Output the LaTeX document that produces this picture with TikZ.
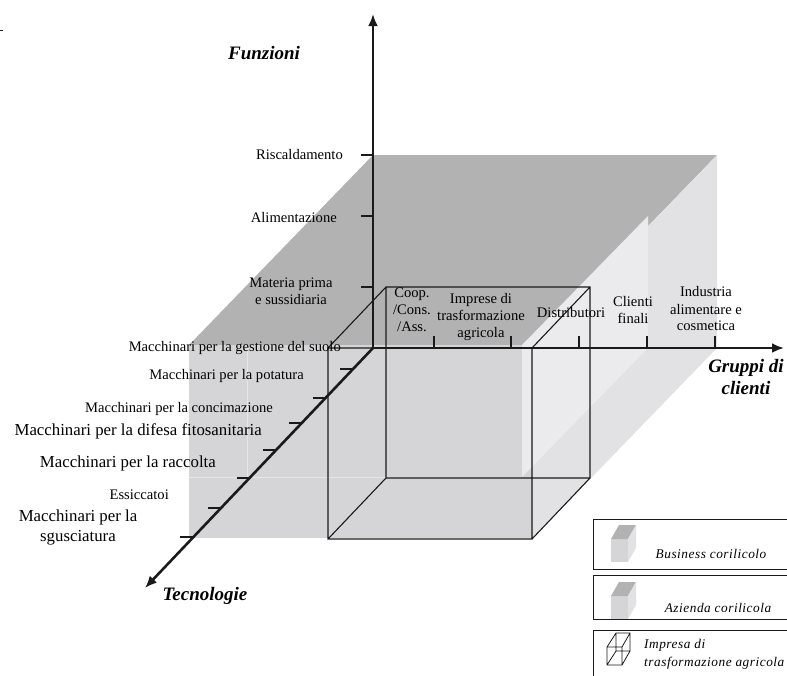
\documentclass[tikz,border=0pt]{standalone}
\usepackage{fontspec}
\setmainfont{Liberation Serif}
\newfontfamily\legfont[LetterSpace=4]{Liberation Serif}
\usetikzlibrary{arrows.meta}
\definecolor{topgray}{HTML}{B2B2B2}
\definecolor{frontgray}{HTML}{D5D5D7}
\definecolor{sidegray}{HTML}{E2E2E4}
\definecolor{sidelight}{HTML}{EBEBED}
\definecolor{faint}{HTML}{E6E6E8}
\definecolor{ink}{HTML}{1A1A1A}

\begin{document}
\begin{tikzpicture}[x=1pt,y=-1pt,
    axis/.style={ink,line width=2.6pt,line cap=rect,-{Latex[length=12pt,width=10pt]}},
    tick/.style={ink,line width=1.6pt},
    wire/.style={ink,line width=1.1pt},
    lab/.style={font=\fontsize{14.6}{17}\selectfont,inner sep=0pt,align=center},
    blab/.style={font=\fontsize{16.8}{20}\selectfont,inner sep=0pt,align=center},
    ttl/.style={font=\fontsize{19}{22}\selectfont\bfseries\itshape,inner sep=0pt,align=center},
    leg/.style={font=\legfont\fontsize{13.3}{18}\selectfont\itshape,inner sep=0pt,align=left}]
  \useasboundingbox (0,0) rectangle (787,675);
  \draw[ink,line width=0.8pt] (0,30) -- (2.5,30);

  \fill[topgray] (373,155) -- (717,155) -- (533,345) -- (189,345) -- cycle;
  \fill[frontgray] (189,345) rectangle (533,538);
  \fill[sidegray] (717,155) -- (717,348) -- (533,538) -- (533,345) -- cycle;
  \fill[sidelight] (648,216) -- (648,348) -- (522,477) -- (522,345) -- cycle;
  \draw[faint,line width=0.8pt] (247,345) -- (247,477) (189,477) -- (522,477);

  \draw[wire] (386,287) rectangle (590,478) (328,348) rectangle (532,539)
    (386,287) -- (328,348) (590,287) -- (532,348) (590,478) -- (532,539) (386,478) -- (328,539);

  \coordinate (O) at (373,348);
  \coordinate (fTip) at (373,14);
  \coordinate (gTip) at (784,348);
  \coordinate (tTip) at (145,588);
  \draw[axis] (O) -- (fTip);
  \draw[axis] (O) -- (gTip);
  \draw[axis] (O) -- (tTip);

  \foreach \y in {155,216,287} \draw[tick] (361,\y) -- (373,\y);
  \foreach \x in {434,511,579,647,715} \draw[tick] (\x,348) -- (\x,336);
  \foreach \y in {369,398,423,450,478,508,537} \draw[tick] ({373-(\y-348)*0.95-13},\y) -- ++(13,0);

  \node[lab,anchor=east] (risc) at (343,155) {Riscaldamento};
  \node[lab,anchor=east] (alim) at (337,218) {Alimentazione};
  \node[lab] (mat) at (291,291) {Materia prima\\e sussidiaria};

  \node[lab] (coop) at (412,310) {Coop.\\/Cons.\\/Ass.};
  \node[lab] (impr) at (481,317) {Imprese di\\trasformazione\\agricola};
  \node[lab] (distr) at (571,312) {Distributori};
  \node[lab] (clienti) at (633,310) {Clienti\\finali};
  \node[lab] (ind) at (706,309) {Industria\\alimentare e\\cosmetica};

  \foreach \n/\x/\y/\t in {suolo/341/348/Macchinari per la gestione del suolo,
      potat/304/376/Macchinari per la potatura,
      concim/273/409/Macchinari per la concimazione,
      essic/169/495/Essiccatoi}
    \node[lab,anchor=east] (\n) at (\x,\y) {\t};
  \node[blab,anchor=east] (difesa) at (262,431) {Macchinari per la difesa fitosanitaria};
  \node[blab,anchor=east] (racc) at (216,463) {Macchinari per la raccolta};
  \node[blab] (sgusc) at (78,527) {Macchinari per la\\sgusciatura};

  \node[ttl] (fTitle) at (264,53) {Funzioni};
  \node[ttl] (gTitle) at (746,377) {Gruppi di\\clienti};
  \node[ttl] (tTitle) at (205,596) {Tecnologie};

  \begin{scope}
    \clip (0,0) rectangle (787,675);
    \foreach \a/\b in {519/569,575/619,630/700}
      \draw[ink,line width=1pt] (593,\a) rectangle (800,\b);
  \end{scope}
  \foreach \y in {539,596} {
    \fill[frontgray] (611,\y) rectangle (628,\y+23);
    \fill[topgray] (611,\y) -- (628,\y) -- (636,\y-14) -- (619,\y-14) -- cycle;
    \fill[sidegray] (628,\y) -- (636,\y-14) -- (636,\y+9) -- (628,\y+23) -- cycle;
  }
  \draw[ink,line width=0.8pt] (616,633) rectangle (630,651) (607,647) rectangle (622,665)
    (616,633) -- (607,647) (630,633) -- (622,647) (630,651) -- (622,665) (616,651) -- (607,665);
  \node[leg] (legBiz) at (711,554) {Business corilicolo};
  \node[leg] (legAz) at (718,608) {Azienda corilicola};
  \node[leg,anchor=west] (legImp) at (644,654) {Impresa di\\trasformazione agricola};
\end{tikzpicture}
\end{document}
